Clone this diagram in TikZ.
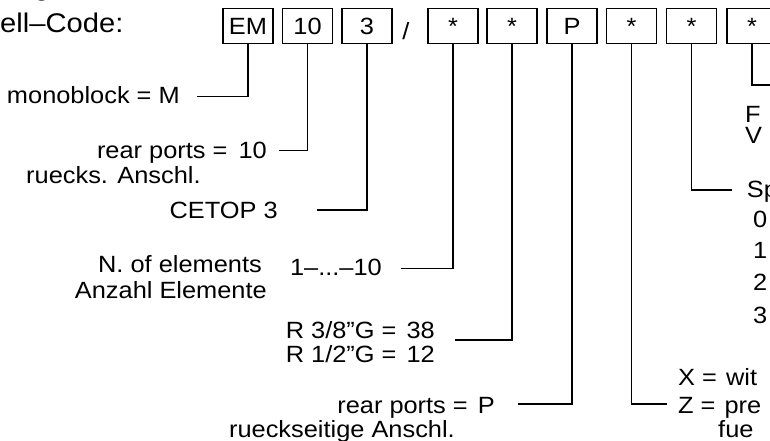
\documentclass[tikz,border=0pt]{standalone}
\usepackage{fontspec}
\setmainfont{Liberation Sans}[FakeStretch=1.08]
\begin{document}
\begin{tikzpicture}[x=1pt,y=-1pt,
  lbl/.style={inner sep=0pt, font=\fontsize{23.5}{28}\selectfont},
  head/.style={inner sep=0pt, font=\fontsize{27}{32}\selectfont},
  codebox/.style={draw, line width=1.2pt, minimum width=50pt, minimum height=34.5pt,
    inner sep=0pt, text height=17pt, text depth=0pt, font=\fontsize{23.5}{28}\selectfont},
  wire/.style={line width=1.2pt}]
\useasboundingbox (0,0) rectangle (770,441);
\clip (0,0) rectangle (770,441);
\fill[white] (0,0) rectangle (770,441);

% heading
\node[head, anchor=base west] (hd) at (0,33) {ell--Code:};
\node[head, anchor=base] (hg) at (42,-4) {g};

% code boxes
\node[codebox] (b1) at (248,26) {EM};
\node[codebox] (b2) at (307.5,26) {10};
\node[codebox] (b3) at (367,26) {3};
\node[lbl, anchor=base] (sl) at (406,40) {/};
\node[codebox] (b4) at (453,26) {*};
\node[codebox] (b5) at (512,26) {*};
\node[codebox] (b6) at (572,26) {P};
\node[codebox] (b7) at (631.5,26) {*};
\node[codebox] (b8) at (691.5,26) {*};
\node[codebox] (b9) at (752,26) {*};

% connector ends
\coordinate (c1) at (197,96.7);
\coordinate (c2) at (279.3,150.7);
\coordinate (c3) at (316.7,210);
\coordinate (c4) at (400.7,268.3);
\coordinate (c5) at (455,340);
\coordinate (c6) at (518.3,404);
\coordinate (c7) at (667.3,404);
\coordinate (c8) at (731.7,190);
\coordinate (c9) at (780,85);

\draw[wire] (b1.south) |- (c1);
\draw[wire] (b2.south) |- (c2);
\draw[wire] (b3.south) |- (c3);
\draw[wire] (b4.south) |- (c4);
\draw[wire] (b5.south) |- (c5);
\draw[wire] (b6.south) |- (c6);
\draw[wire] (b7.south) |- (c7);
\draw[wire] (b8.south) |- (c8);
\draw[wire] (b9.south) |- (c9);

% left labels
\node[lbl, anchor=base east] (t1) at (180,103) {monoblock = M};
\node[lbl, anchor=base east] (t2) at (267,158) {rear ports = \hspace{4pt}10};
\node[lbl, anchor=base west] (t2b) at (26,183) {ruecks. Anschl.};
\node[lbl, anchor=base east] (t3) at (278,218) {CETOP 3};
\node[lbl, anchor=base east] (t4a) at (262,272) {N. of elements};
\node[lbl, anchor=base east] (t4b) at (267,298) {Anzahl Elemente};
\node[lbl, anchor=base east] (t4c) at (382,275) {1--...--10};
\node[lbl, anchor=base east] (t5a) at (435,338) {R 3/8"G = \hspace{3pt}38};
\node[lbl, anchor=base east] (t5b) at (435,362) {R 1/2"G = \hspace{3pt}12};
\node[lbl, anchor=base east] (t6a) at (495,413) {rear ports = \hspace{3pt}P};
\node[lbl, anchor=base east] (t6b) at (455,437) {rueckseitige Anschl.};

% right labels
\node[lbl, anchor=base west] (t7a) at (678,385) {X = \hspace{2pt}wit};
\node[lbl, anchor=base west] (t7b) at (678,413) {Z = \hspace{2pt}pre};
\node[lbl, anchor=base west] (t7c) at (718,437) {fue};
\node[lbl, anchor=base west] (t8a) at (746.7,197) {Sp};
\node[lbl, anchor=base west] (t80) at (753,227) {0};
\node[lbl, anchor=base west] (t81) at (753,258) {1};
\node[lbl, anchor=base west] (t82) at (753,290) {2};
\node[lbl, anchor=base west] (t83) at (753,323) {3};
\node[lbl, anchor=base west] (t9a) at (745,122) {F};
\node[lbl, anchor=base west] (t9b) at (745,143) {V};
\end{tikzpicture}
\end{document}
